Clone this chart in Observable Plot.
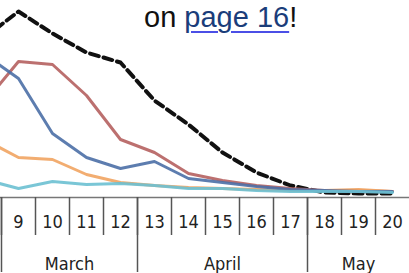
<!DOCTYPE html>
<html>
<head>
<meta charset="utf-8">
<script src="https://cdn.jsdelivr.net/npm/d3@7"></script>
<script src="https://cdn.jsdelivr.net/npm/@observablehq/plot@0.6"></script>
<style>
  html, body { margin: 0; padding: 0; background: #fff; }
  #wrap { position: relative; width: 409px; height: 273px; overflow: hidden; }
  #note { position: absolute; left: 144px; top: 3px; font-family: "Liberation Sans", Arial, sans-serif;
          font-size: 29px; line-height: 29px; color: #111; white-space: nowrap; z-index: 2; }
  #note .lnk { color: #1b3d7a; text-decoration: underline; text-decoration-color: #4b4fe6;
               text-decoration-thickness: 2px; text-underline-offset: 4px; }
</style>
</head>
<body>
<div id="wrap"><div id="note">on <span class="lnk">page 16</span>!</div></div>
<script>
const weeks = [8, 9, 10, 11, 12, 13, 14, 15, 16, 17, 18, 19, 20];
const totalSeries  = [160, 186, 164, 145, 135, 97, 73, 45, 25, 12, 5, 4, 4];
const redSeries    = [95, 136, 133, 102, 58, 45, 24, 17, 12, 9, 7, 7, 6];
const blueSeries   = [143, 119, 64, 40, 29, 36, 19, 15, 11, 8, 7, 6, 6];
const orangeSeries = [58, 40, 38, 23, 15, 12, 10, 9, 8, 7, 7, 8, 6];
const cyanSeries   = [18, 9, 16, 13, 14, 12, 9, 9, 7, 6, 6, 6, 5];

const weekLabels = [9, 10, 11, 12, 13, 14, 15, 16, 17, 18, 19, 20];
const weekBoundaries = [8.5, 9.5, 10.5, 11.5, 12.5, 13.5, 14.5, 15.5, 16.5, 17.5, 18.5, 19.5];
const monthBoundaries = [8.5, 12.5, 17.5];
const monthNames = ["March", "April", "May"];
const monthCenters = [10.5, 15, 19];

const pts = (vals) => weeks.map((w, i) => ({week: w, value: vals[i]}));
const months = monthNames.map((m, i) => ({name: m, x: monthCenters[i]}));
const narrow = "'Liberation Sans Narrow', 'Arial Narrow', 'DejaVu Sans Condensed', sans-serif";

const chart = Plot.plot({
  width: 409,
  height: 273,
  marginLeft: 0,
  marginRight: 0,
  marginTop: 0,
  marginBottom: 76,
  x: {domain: [9 - 18 / 34, 20.5], axis: null},
  y: {domain: [0, 197], axis: null},
  style: {fontFamily: narrow, background: "transparent"},
  marks: [
    Plot.line(pts(totalSeries), {x: "week", y: "value", stroke: "#111", strokeWidth: 4,
      strokeDasharray: "9,5", clip: true}),
    Plot.line(pts(redSeries), {x: "week", y: "value", stroke: "#b5615f", strokeWidth: 3, strokeOpacity: 0.9, clip: true}),
    Plot.line(pts(orangeSeries), {x: "week", y: "value", stroke: "#f1a462", strokeWidth: 3, strokeOpacity: 0.9, clip: true}),
    Plot.line(pts(blueSeries), {x: "week", y: "value", stroke: "#4b6fa6", strokeWidth: 3, strokeOpacity: 0.9, clip: true}),
    Plot.line(pts(cyanSeries), {x: "week", y: "value", stroke: "#6cc0d2", strokeWidth: 3, strokeOpacity: 0.9, clip: true}),
    Plot.ruleY([0], {stroke: "#777", strokeWidth: 1.5}),
    Plot.axisX(weekBoundaries, {tickSize: 38, text: null, stroke: "#555", strokeWidth: 1.5, label: null}),
    Plot.axisX(monthBoundaries, {tickSize: 75, text: null, stroke: "#555", strokeWidth: 1.5, label: null}),
    Plot.text(weekLabels, {x: d => d, text: d => String(d), frameAnchor: "bottom", lineAnchor: "top",
      dy: 18, fontSize: 18, fill: "#222", fontFamily: narrow}),
    Plot.text(months, {x: "x", text: "name", frameAnchor: "bottom", lineAnchor: "top",
      dy: 60, fontSize: 18, fill: "#222", fontFamily: narrow})
  ]
});
document.getElementById("wrap").appendChild(chart);
chart.style.position = "absolute";
chart.style.left = "0";
chart.style.top = "0";
</script>
</body>
</html>
